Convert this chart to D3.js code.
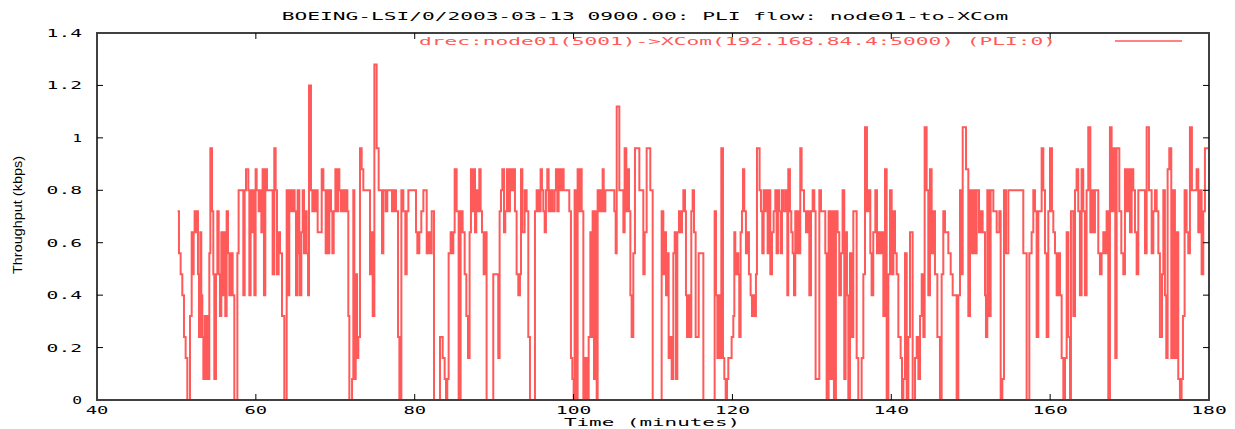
<!DOCTYPE html>
<html><head><meta charset="utf-8">
<script src="https://cdn.jsdelivr.net/npm/d3@7/dist/d3.min.js"></script>
<style>body{margin:0;background:#fff}svg{display:block}</style>
</head><body>
<svg id="chart" width="1235" height="429"></svg>
<script>
const titleText = "BOEING-LSI/0/2003-03-13 0900.00: PLI flow: node01-to-XCom";
const legendText = "drec:node01(5001)->XCom(192.168.84.4:5000) (PLI:0)";
const xTitle = "Time (minutes)";
const yTitle = "Throughput (kbps)";
const xTicks = [40, 60, 80, 100, 120, 140, 160, 180];
const yTicks = [0, 0.2, 0.4, 0.6, 0.8, 1, 1.2, 1.4];
const yTickLabels = ["0", "0.2", "0.4", "0.6", "0.8", "1", "1.2", "1.4"];
const endTime = 180;

// step start times (minutes) and throughput (kbps)
const times = [
50.15,50.32,50.53,50.74,50.95,51.16,51.37,51.71,51.92,52.04,52.17,52.29,52.46,52.59,52.71,52.84,53.01,53.13,53.26,53.39,53.55,53.68,53.85,53.97,54.14,54.27,54.48,54.64,54.77,54.98,55.15,55.32,55.48,55.65,55.82,55.99,56.15,56.32,56.49,56.66,56.87,57.08,57.29,57.67,57.83,58.42,58.59,58.76,59.05,59.18,59.34,59.51,59.68,59.81,59.97,60.10,60.35,60.52,60.69,60.85,61.02,61.19,61.40,62.11,62.32,62.49,62.66,62.87,63.04,63.29,63.58,63.88,64.04,64.21,64.46,64.63,64.88,65.05,65.26,65.47,
65.56,65.73,65.90,66.06,66.23,66.40,66.57,66.69,66.94,67.11,67.28,67.45,67.62,67.78,68.29,68.50,68.79,68.96,69.08,69.25,69.46,69.63,69.80,70.01,70.18,70.34,70.51,70.68,70.89,71.14,71.35,71.52,71.64,71.77,72.11,72.27,72.40,72.57,72.74,72.90,73.11,73.32,73.53,74.37,74.54,74.71,74.92,75.21,75.46,75.88,76.05,76.35,76.55,77.14,77.39,77.64,77.90,78.07,78.32,78.57,78.82,78.99,79.20,80.16,80.33,80.58,80.83,81.09,81.51,81.72,81.93,82.14,82.43,
83.18,83.52,83.77,83.94,84.10,84.27,84.52,84.69,84.86,85.03,85.28,85.53,85.78,86.03,86.29,86.50,86.71,86.91,87.08,87.25,87.42,87.59,87.75,87.92,88.13,88.30,88.47,88.68,88.89,89.05,89.89,90.52,90.69,90.86,91.03,91.24,91.40,91.61,91.82,91.99,92.20,92.41,92.62,92.83,93.04,93.25,93.38,93.55,93.84,94.09,94.30,94.51,95.14,95.35,95.60,95.85,96.02,96.19,96.36,96.52,96.69,96.86,97.11,97.36,97.62,97.78,97.95,98.12,98.29,98.54,98.75,99.46,99.67,99.84,100.01,100.13,100.30,100.51,100.72,
100.81,101.02,101.23,101.48,101.69,101.90,102.11,102.28,102.40,102.57,102.74,102.91,103.03,103.20,103.37,103.54,103.66,103.79,104.00,105.13,105.30,105.43,105.76,106.27,106.43,106.64,106.81,106.98,107.15,107.31,107.52,107.73,108.28,108.78,108.95,109.20,109.66,109.96,111.09,111.30,111.47,111.64,111.80,111.97,112.14,112.35,112.56,112.73,112.90,113.06,113.27,113.48,113.65,113.82,114.03,114.15,114.28,114.49,114.66,114.82,114.99,115.16,115.37,115.75,116.34,117.76,117.93,118.10,118.27,118.43,118.60,118.81,118.98,119.15,119.32,119.48,
119.69,119.90,120.11,120.24,120.36,120.57,120.74,120.86,121.03,121.20,121.33,121.49,121.70,121.91,122.08,122.29,122.46,122.63,122.80,122.96,123.09,123.42,123.59,123.76,123.93,124.10,124.26,124.43,124.60,124.77,124.98,125.19,125.40,125.56,125.73,125.90,126.07,126.24,126.40,126.66,126.91,127.03,127.24,127.41,127.58,127.75,127.91,128.08,128.25,128.42,128.54,128.71,129.01,129.26,129.47,129.68,129.89,130.10,130.31,130.47,130.94,131.15,131.69,131.86,132.11,132.36,132.53,132.78,133.03,133.24,133.45,133.66,133.87,134.08,134.25,134.42,134.59,134.80,135.01,135.22,135.64,135.85,136.27,136.48,136.69,136.94,137.19,137.36,137.52,137.73,137.99,138.20,138.41,
138.58,138.79,139.00,139.21,139.42,139.63,139.84,140.05,140.26,140.47,140.68,140.89,141.18,141.35,141.52,141.73,141.94,142.15,142.36,142.69,142.99,143.20,143.41,143.62,143.83,144.04,144.20,144.45,144.66,144.87,145.08,145.29,145.50,145.80,146.13,146.34,146.55,146.76,147.18,147.48,147.73,148.23,148.44,148.65,148.86,148.99,149.41,149.70,149.91,150.12,150.33,150.54,150.75,151.04,151.29,151.50,151.80,151.92,152.09,152.30,152.51,152.85,153.27,153.60,153.77,153.98,154.19,154.44,154.74,156.62,157.04,157.38,
157.46,157.67,157.88,158.09,158.30,158.51,158.93,159.14,159.35,159.56,159.77,159.98,160.23,160.40,160.61,160.82,161.03,161.24,161.45,161.66,161.87,162.08,162.29,162.50,162.62,162.92,163.13,163.33,163.54,163.75,163.96,164.17,164.38,164.59,164.80,165.06,165.22,165.43,165.64,166.06,166.27,166.48,166.69,166.90,167.11,167.32,167.53,167.74,167.95,168.20,168.37,168.71,168.96,169.21,169.42,169.63,169.84,170.05,170.26,170.47,170.68,170.89,171.10,171.94,172.15,172.44,172.78,172.99,173.20,173.41,173.62,173.82,174.08,174.25,174.45,174.62,174.79,175.00,175.25,175.50,175.71,175.92,176.13,176.34,176.55,176.72,176.93,177.18,177.39,177.60,177.85,178.44,178.65,178.86,179.07,179.28,179.49
];
const kbps = [
.72,.56,.48,.40,.24,.16,0,.32,.64,.48,.64,.72,.64,.72,.48,.24,.64,.40,.24,.08,.32,.08,.32,.08,.56,.96,.72,.48,.08,.48,.72,.48,.32,.64,.40,.64,.32,.72,.56,.40,.56,.40,0,.56,.80,.40,.80,.88,.80,.40,.80,.64,.80,.40,.88,.80,.72,.80,.64,.88,.40,.88,.80,.48,.96,.80,.48,.64,.56,.32,0,.80,.40,.80,.72,.80,.72,.40,.80,.56,
.40,.64,.80,.56,.72,.56,.40,1.20,.80,.72,.80,.72,.80,.64,.88,.80,.56,.80,.56,.80,.72,.56,.72,.88,.72,.88,.80,.72,.80,.72,.80,.72,.32,0,.08,.80,.08,.48,.16,.24,.96,.88,.80,.48,.64,.32,1.28,.96,.80,.56,.80,.72,.80,.72,.80,.72,.24,0,.80,.72,.48,.72,.80,.64,.56,.64,.72,.80,.56,.64,.56,.72,0,
.24,.16,.08,0,.08,.56,.64,.56,.64,.88,.72,0,.72,.64,.48,.32,.16,.64,.88,.72,.88,.64,.80,.72,.88,.72,.64,.48,.64,0,.48,.16,.72,.80,.88,.64,.72,.88,.72,.88,.80,.88,.72,.48,.40,.48,.88,.64,.80,.72,.24,0,.72,.80,.72,.88,.80,.72,.64,.80,.88,.72,.80,.72,.80,.88,.72,.88,.80,.88,.80,.72,.16,.08,0,.80,0,.88,.72,
.88,.72,0,.16,0,.24,.64,.24,.72,.08,.72,0,.80,.72,.80,.72,.88,.72,.80,.72,.56,1.12,.80,.64,.96,.72,.88,.72,.40,.24,.56,.96,.80,.48,.64,.96,.80,0,.72,.48,.64,.40,.56,.16,.24,.08,.56,.64,.08,.64,.72,.64,.72,.80,.72,.40,.24,.40,.24,.72,.80,.64,.24,.56,0,.72,.40,.16,.40,.16,.96,.16,.08,0,.08,.16,
.16,.24,.32,.64,.48,.56,.48,.24,.64,.72,.88,.72,.56,.64,.48,.40,.32,.40,.32,.48,.96,.80,.72,.56,.80,.72,.80,.56,.80,.48,.64,.72,.80,.56,.80,.72,.56,.80,.72,.80,.40,.88,.72,.64,.56,.40,.72,.56,.72,.56,.96,.80,.72,.64,.72,.40,.72,.80,.72,.08,.80,.72,.56,0,.72,.08,.72,0,.72,.64,.40,.56,.80,.08,.64,.40,0,.56,.24,.72,.16,0,.16,.48,1.04,.72,.80,.56,.40,.64,.80,.56,.64,
.56,.64,.32,.88,0,.48,.80,.48,.72,.56,.48,.24,.16,0,.08,.56,0,.24,.64,0,.16,.24,.08,.32,.48,.24,1.04,.80,.40,.88,.56,.72,.48,.24,0,.48,.72,.64,.56,.48,.40,0,.40,.80,.48,1.04,.88,.32,.80,.56,.80,.56,.80,.64,.72,.64,.40,.24,.80,.32,.80,.72,.64,.72,0,.08,.80,.56,.80,.56,0,.56,
.56,.64,.80,.72,.24,.72,.96,.80,.56,.24,.72,.96,.72,.64,.56,.40,.56,.40,.16,0,.16,.64,.24,0,.72,.32,.80,.88,.72,.40,.88,.72,.40,.80,1.04,.64,.80,.64,.80,.56,.48,.56,.64,.56,.72,0,1.04,.72,.96,.16,.96,.72,.56,.48,.88,.72,.88,.64,.88,.80,.64,.48,.80,.56,1.04,.80,.56,.72,.80,.72,.56,.24,.48,.80,.40,.16,.88,.96,.16,.80,.16,.64,.08,0,.08,.32,.80,.64,.56,1.04,.80,.88,.64,.80,.48,.72,.96
];

const svg = d3.select("#chart");
const x = d3.scaleLinear().domain([40, 180]).range([97, 1209]);
const y = d3.scaleLinear().domain([0, 1.4]).range([400, 33]);
const red = "#ff5a5a";
const mono = "'DejaVu Sans Mono', monospace";
const perChar = 12.8;

function pixText(sel, txt, fill) {
  sel.text(txt)
    .attr("font-family", mono)
    .attr("font-size", 11)
    .attr("fill", fill || "#000")
    .attr("textLength", txt.length * perChar - 3)
    .attr("lengthAdjust", "spacingAndGlyphs");
  return sel;
}

// data
const pts = times.map((t, i) => [t, kbps[i]]);
pts.push([endTime, kbps[kbps.length - 1]]);
const line = d3.line().x(d => x(d[0])).y(d => y(d[1])).curve(d3.curveStepAfter);
svg.append("path").datum(pts)
  .attr("d", line)
  .attr("fill", "none")
  .attr("stroke", red)
  .attr("stroke-width", 2)
  .attr("stroke-linejoin", "miter");

// frame
svg.append("rect")
  .attr("x", x(40)).attr("y", y(1.4))
  .attr("width", x(180) - x(40)).attr("height", y(0) - y(1.4))
  .attr("fill", "none").attr("stroke", "#404040").attr("stroke-width", 2);

// ticks (inward, mirrored)
const tk = svg.append("g").attr("stroke", "#000").attr("stroke-width", 1);
xTicks.forEach(v => {
  if (v === 40 || v === 180) return;
  tk.append("line").attr("x1", x(v)).attr("x2", x(v)).attr("y1", y(0)).attr("y2", y(0) - 6);
  tk.append("line").attr("x1", x(v)).attr("x2", x(v)).attr("y1", y(1.4)).attr("y2", y(1.4) + 6);
});
yTicks.forEach(v => {
  if (v === 0 || v === 1.4) return;
  tk.append("line").attr("x1", x(40)).attr("x2", x(40) + 6).attr("y1", y(v)).attr("y2", y(v));
  tk.append("line").attr("x1", x(180)).attr("x2", x(180) - 6).attr("y1", y(v)).attr("y2", y(v));
});

// tick labels
xTicks.forEach(v => {
  pixText(svg.append("text").attr("x", x(v)).attr("y", 414).attr("text-anchor", "middle"), String(v));
});
yTicks.forEach((v, i) => {
  pixText(svg.append("text").attr("x", 82).attr("y", y(v) + 4).attr("text-anchor", "end"), yTickLabels[i]);
});

// titles
pixText(svg.append("text").attr("x", 645).attr("y", 20).attr("text-anchor", "middle"), titleText);
pixText(svg.append("text").attr("x", 652).attr("y", 426).attr("text-anchor", "middle"), xTitle);
svg.append("text")
  .attr("transform", "translate(22,215) rotate(-90)")
  .attr("text-anchor", "middle")
  .attr("font-family", "'Liberation Sans Narrow','Liberation Sans',sans-serif")
  .attr("font-size", 12)
  .attr("textLength", 118).attr("lengthAdjust", "spacingAndGlyphs")
  .text(yTitle);

// legend
pixText(svg.append("text").attr("x", 419).attr("y", 45).attr("text-anchor", "start"), legendText, red);
svg.append("line").attr("x1", 1115).attr("x2", 1182).attr("y1", 41).attr("y2", 41)
  .attr("stroke", red).attr("stroke-width", 1.5);
</script>
</body></html>
